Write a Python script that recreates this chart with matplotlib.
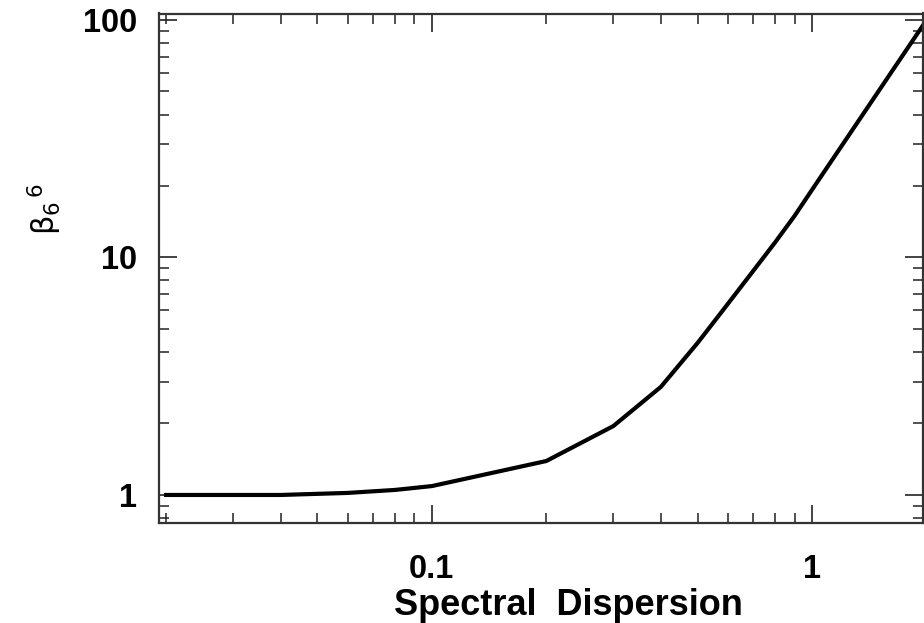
import matplotlib
matplotlib.use("Agg")
import matplotlib.pyplot as plt
from matplotlib.ticker import FixedLocator, FixedFormatter, LogLocator, NullFormatter

# Data
dispersion = [0.02, 0.04, 0.06, 0.08, 0.1, 0.2, 0.3, 0.4, 0.5, 0.6, 0.7, 0.8, 0.9, 1.0, 2.0]
beta = [1.00, 1.00, 1.02, 1.05, 1.09, 1.39, 1.95, 2.85, 4.37, 6.37, 8.78, 11.6, 15.0, 19.3, 100.0]

x_ticks = [0.1, 1]
x_tick_labels = ["0.1", "1"]
y_ticks = [1, 10, 100]
y_tick_labels = ["1", "10", "100"]

W, H = 924, 623
fig = plt.figure(figsize=(W / 100, H / 100), dpi=100)
left, right, top, bottom = 159, 923.5, 13.5, 523
ax = fig.add_axes([left / W, 1 - bottom / H, (right - left) / W, (bottom - top) / H])

ax.plot(dispersion, beta, color="black", lw=3.0, solid_joinstyle="round")
ax.set_xscale("log")
ax.set_yscale("log")
ax.set_xlim(0.01916, 1.963)
ax.set_ylim(0.762, 106.5)

ax.xaxis.set_major_locator(FixedLocator(x_ticks))
ax.xaxis.set_major_formatter(FixedFormatter(x_tick_labels))
ax.yaxis.set_major_locator(FixedLocator(y_ticks))
ax.yaxis.set_major_formatter(FixedFormatter(y_tick_labels))
ax.xaxis.set_minor_locator(LogLocator(base=10, subs=range(2, 10), numticks=20))
ax.yaxis.set_minor_locator(LogLocator(base=10, subs=range(2, 10), numticks=20))
ax.xaxis.set_minor_formatter(NullFormatter())
ax.yaxis.set_minor_formatter(NullFormatter())

ax.tick_params(which="both", direction="in", top=True, right=True, color="#222222")
ax.tick_params(which="major", length=13, width=1.2)
ax.tick_params(which="minor", length=7, width=1.1)
ax.tick_params(axis="x", which="major", pad=22)
ax.tick_params(axis="y", which="major", pad=16)

for lab in ax.get_xticklabels() + ax.get_yticklabels():
    lab.set_fontfamily("Liberation Sans")
    lab.set_fontweight("bold")
    lab.set_fontsize(23.5)

for sp in ax.spines.values():
    sp.set_linewidth(1.6)
    sp.set_color("#333333")

plt.rcParams["mathtext.fontset"] = "dejavusans"
fig.text(568 / W, 1 - 615 / H, "Spectral  Dispersion", ha="center", va="baseline",
         fontsize=26, fontweight="bold", family="Liberation Sans")
fig.text(64 / W, 1 - 209 / H, r"$\mathrm{\beta}_6{}^{\,6}$", rotation=90, ha="right",
         va="center", fontsize=22)

fig.savefig("out.png", dpi=100)
